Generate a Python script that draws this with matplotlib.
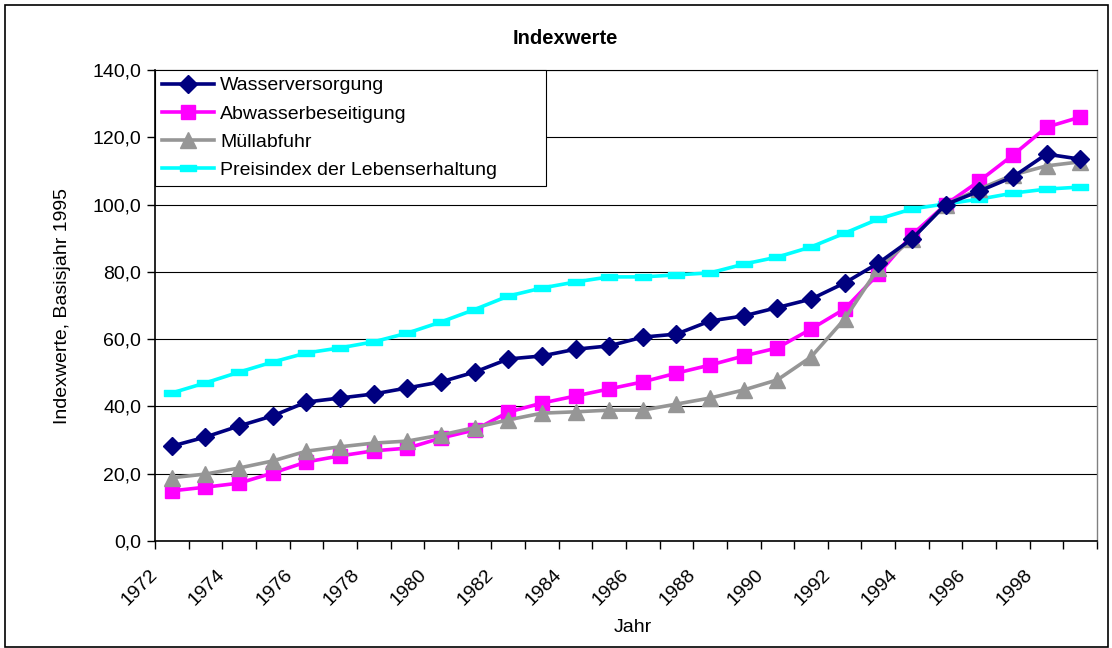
import matplotlib.pyplot as plt
import matplotlib.transforms as mtransforms
from matplotlib.patches import Rectangle
from matplotlib.path import Path

plt.rcParams['font.family'] = ['Liberation Sans', 'DejaVu Sans']

years = list(range(1972, 2000))

wasser = [28.2, 30.9, 34.2, 37.2, 41.3, 42.5, 43.7, 45.5, 47.3, 50.2,
          54.1, 55.0, 57.0, 58.0, 60.6, 61.5, 65.4, 66.9, 69.4, 71.9,
          76.7, 82.6, 89.8, 100.0, 104.0, 108.2, 115.0, 113.5]
abwasser = [14.9, 16.0, 17.2, 20.2, 23.5, 25.3, 26.8, 27.6, 30.6, 33.0,
            38.3, 41.0, 43.1, 45.2, 47.3, 49.9, 52.3, 55.0, 57.4, 63.0,
            69.0, 79.4, 91.0, 100.0, 107.0, 114.7, 123.0, 126.0]
muell = [18.8, 19.9, 21.7, 23.8, 26.7, 28.0, 29.1, 29.7, 31.5, 33.7,
         36.0, 38.0, 38.4, 38.9, 38.9, 40.7, 42.5, 44.9, 47.9, 54.7,
         66.0, 81.1, 89.8, 100.0, 104.6, 108.8, 111.5, 112.7]
preis = [44.0, 47.0, 50.2, 53.2, 55.9, 57.4, 59.2, 61.8, 65.1, 68.8,
         72.8, 75.2, 77.0, 78.5, 78.5, 79.1, 79.7, 82.3, 84.4, 87.4,
         91.5, 95.7, 98.7, 100.2, 101.6, 103.4, 104.6, 105.2]

series_names = ['Wasserversorgung', 'Abwasserbeseitigung', 'Müllabfuhr',
                'Preisindex der Lebenserhaltung']

FS = 14

fig = plt.figure(figsize=(11.12, 6.48), dpi=100)
ax = fig.add_axes([155 / 1112, 1 - 541 / 648, 942 / 1112, 471 / 648])

# x positions = category centres (Excel-style category axis)
xs = [i + 0.5 for i in range(len(years))]

dash = Path([(-1, -0.45), (1, -0.45), (1, 0.45), (-1, 0.45), (-1, -0.45)],
            [Path.MOVETO, Path.LINETO, Path.LINETO, Path.LINETO, Path.CLOSEPOLY])

ax.plot(xs, wasser, color='#000080', lw=2.6, marker='D', ms=9.5,
        label=series_names[0], zorder=5)
ax.plot(xs, abwasser, color='#FF00FF', lw=2.6, marker='s', ms=10.5,
        label=series_names[1], zorder=4)
ax.plot(xs, muell, color='#969696', lw=2.6, marker='^', ms=12,
        label=series_names[2], zorder=4)
ax.plot(xs, preis, color='#00FFFF', lw=2.6, marker=dash, ms=11,
        label=series_names[3], zorder=3)

ax.set_xlim(0, len(years))
ax.set_ylim(0, 140)
ax.set_yticks(range(0, 141, 20))
ax.set_yticklabels([f'{v:.1f}'.replace('.', ',') for v in range(0, 141, 20)],
                   fontsize=FS)
ax.set_xticks(range(0, len(years) + 1))
ax.set_xticklabels([str(y) if (y - 1972) % 2 == 0 else ''
                    for y in years] + [''],
                   rotation=45, ha='right', fontsize=FS)
ax.tick_params(axis='both', direction='out', length=6, width=1, color='black')
ax.tick_params(axis='x', pad=12)
ax.tick_params(axis='y', pad=4)
shift = mtransforms.ScaledTranslation(6 / 100, 0, fig.dpi_scale_trans)
for lbl in ax.get_xticklabels():
    lbl.set_transform(lbl.get_transform() + shift)

ax.yaxis.grid(True, color='black', lw=0.8)
ax.set_axisbelow(True)
for s in ['left', 'bottom']:
    ax.spines[s].set_color('black')
    ax.spines[s].set_linewidth(1.2)
ax.spines['top'].set_color('black')
ax.spines['top'].set_linewidth(0.8)
ax.spines['right'].set_color('#808080')
ax.spines['right'].set_linewidth(1)

ax.set_ylabel('Indexwerte, Basisjahr 1995', fontsize=FS)
ax.yaxis.set_label_coords(-0.089, 0.5)
ax.set_xlabel('Jahr', fontsize=FS)
ax.xaxis.set_label_coords(0.507, -0.166)

fig.text(565 / 1112, 1 - 38 / 648, 'Indexwerte', fontsize=14.5,
         fontweight='bold', ha='center', va='center')

leg = ax.legend(loc='upper left', bbox_to_anchor=(0, 1, 391 / 942, 0),
                mode='expand', borderaxespad=0,
                fontsize=FS, fancybox=False, framealpha=1, edgecolor='black',
                handlelength=2.7, labelspacing=0.54, handletextpad=0.3,
                borderpad=0.35)
leg.get_frame().set_linewidth(0.8)

fig.patches.append(Rectangle((5 / 1112, 0.002), 1103 / 1112, 1 - 5 / 648 - 0.002,
                             transform=fig.transFigure, fill=False,
                             edgecolor='black', lw=1.2))

fig.savefig('out.png', dpi=100)
